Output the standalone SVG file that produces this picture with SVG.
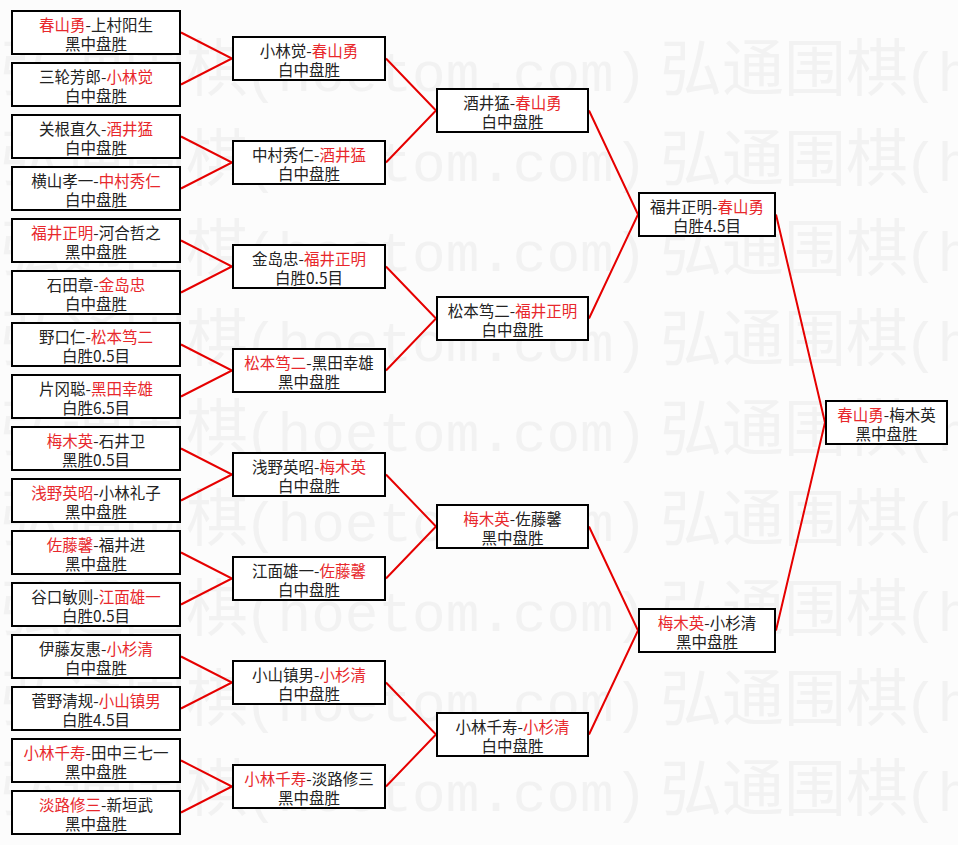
<svg xmlns="http://www.w3.org/2000/svg" xmlns:xlink="http://www.w3.org/1999/xlink" width="958" height="845" viewBox="0 0 958 845">
<style>
.bg{fill:#fcfcfc}
.wmc{font-family:"Noto Sans CJK SC","Noto Sans CJK JP",sans-serif;font-size:62px;fill:#f2f2f2}
.wml{font-family:"Liberation Mono",monospace;font-size:56px;fill:#f2f2f2}
.node rect{fill:#ffffff;stroke:#000000;stroke-width:2}
.node text{font-family:"Noto Sans CJK SC","Noto Sans CJK JP",sans-serif;font-size:15.5px;fill:#222222;text-anchor:middle}
.node .r{fill:#e8282c}
#connectors path{fill:none;stroke:#e60000;stroke-width:2}
</style>
<defs>
<g id="wmrow">
<text class="wmc" x="0">弘通围棋</text><text class="wml" x="244">(hoetom.com)</text>
<text class="wmc" x="660">弘通围棋</text><text class="wml" x="904">(hoetom.com)</text>
</g>
</defs>
<rect class="bg" x="0" y="0" width="958" height="845"/>
<g id="watermark">
<use xlink:href="#wmrow" x="0" y="90.5"/>
<use xlink:href="#wmrow" x="0" y="180.5"/>
<use xlink:href="#wmrow" x="0" y="270.5"/>
<use xlink:href="#wmrow" x="0" y="360.5"/>
<use xlink:href="#wmrow" x="0" y="450.5"/>
<use xlink:href="#wmrow" x="0" y="540.5"/>
<use xlink:href="#wmrow" x="0" y="630.5"/>
<use xlink:href="#wmrow" x="0" y="720.5"/>
<use xlink:href="#wmrow" x="0" y="810.5"/>
</g>
<g id="connectors">
<path d="M181,32.5 L232,58.5 L181,84.5"/>
<path d="M181,136.5 L232,162.5 L181,188.5"/>
<path d="M181,240.5 L232,266.5 L181,292.5"/>
<path d="M181,344.5 L232,370.5 L181,396.5"/>
<path d="M181,448.5 L232,474.5 L181,500.5"/>
<path d="M181,552.5 L232,578.5 L181,604.5"/>
<path d="M181,656.5 L232,682.5 L181,708.5"/>
<path d="M181,760.5 L232,786.5 L181,812.5"/>
<path d="M386,58.5 L436,110.5 L386,162.5"/>
<path d="M386,266.5 L436,318.5 L386,370.5"/>
<path d="M386,474.5 L436,526.5 L386,578.5"/>
<path d="M386,682.5 L436,734.5 L386,786.5"/>
<path d="M589,110.5 L638,214.5 L589,318.5"/>
<path d="M589,526.5 L638,630.5 L589,734.5"/>
<path d="M776,214.5 L825,422.5 L776,630.5"/>
</g>
<g id="r1-1" class="node"><rect x="12" y="11" width="168" height="43"/><text x="96" y="31"><tspan class="r">春山勇</tspan>-上村阳生</text><text x="96" y="50">黑中盘胜</text></g>
<g id="r1-2" class="node"><rect x="12" y="63" width="168" height="43"/><text x="96" y="83">三轮芳郎-<tspan class="r">小林觉</tspan></text><text x="96" y="102">白中盘胜</text></g>
<g id="r1-3" class="node"><rect x="12" y="115" width="168" height="43"/><text x="96" y="135">关根直久-<tspan class="r">酒井猛</tspan></text><text x="96" y="154">白中盘胜</text></g>
<g id="r1-4" class="node"><rect x="12" y="167" width="168" height="43"/><text x="96" y="187">横山孝一-<tspan class="r">中村秀仁</tspan></text><text x="96" y="206">白中盘胜</text></g>
<g id="r1-5" class="node"><rect x="12" y="219" width="168" height="43"/><text x="96" y="239"><tspan class="r">福井正明</tspan>-河合哲之</text><text x="96" y="258">黑中盘胜</text></g>
<g id="r1-6" class="node"><rect x="12" y="271" width="168" height="43"/><text x="96" y="291">石田章-<tspan class="r">金岛忠</tspan></text><text x="96" y="310">白中盘胜</text></g>
<g id="r1-7" class="node"><rect x="12" y="323" width="168" height="43"/><text x="96" y="343">野口仁-<tspan class="r">松本笃二</tspan></text><text x="96" y="362">白胜0.5目</text></g>
<g id="r1-8" class="node"><rect x="12" y="375" width="168" height="43"/><text x="96" y="395">片冈聪-<tspan class="r">黑田幸雄</tspan></text><text x="96" y="414">白胜6.5目</text></g>
<g id="r1-9" class="node"><rect x="12" y="427" width="168" height="43"/><text x="96" y="447"><tspan class="r">梅木英</tspan>-石井卫</text><text x="96" y="466">黑胜0.5目</text></g>
<g id="r1-10" class="node"><rect x="12" y="479" width="168" height="43"/><text x="96" y="499"><tspan class="r">浅野英昭</tspan>-小林礼子</text><text x="96" y="518">黑中盘胜</text></g>
<g id="r1-11" class="node"><rect x="12" y="531" width="168" height="43"/><text x="96" y="551"><tspan class="r">佐藤馨</tspan>-福井进</text><text x="96" y="570">黑中盘胜</text></g>
<g id="r1-12" class="node"><rect x="12" y="583" width="168" height="43"/><text x="96" y="603">谷口敏则-<tspan class="r">江面雄一</tspan></text><text x="96" y="622">白胜0.5目</text></g>
<g id="r1-13" class="node"><rect x="12" y="635" width="168" height="43"/><text x="96" y="655">伊藤友惠-<tspan class="r">小杉清</tspan></text><text x="96" y="674">白中盘胜</text></g>
<g id="r1-14" class="node"><rect x="12" y="687" width="168" height="43"/><text x="96" y="707">菅野清规-<tspan class="r">小山镇男</tspan></text><text x="96" y="726">白胜4.5目</text></g>
<g id="r1-15" class="node"><rect x="12" y="739" width="168" height="43"/><text x="96" y="759"><tspan class="r">小林千寿</tspan>-田中三七一</text><text x="96" y="778">黑中盘胜</text></g>
<g id="r1-16" class="node"><rect x="12" y="791" width="168" height="43"/><text x="96" y="811"><tspan class="r">淡路修三</tspan>-新垣武</text><text x="96" y="830">黑中盘胜</text></g>
<g id="r2-1" class="node"><rect x="233" y="37" width="152" height="43"/><text x="309" y="57">小林觉-<tspan class="r">春山勇</tspan></text><text x="309" y="76">白中盘胜</text></g>
<g id="r2-2" class="node"><rect x="233" y="141" width="152" height="43"/><text x="309" y="161">中村秀仁-<tspan class="r">酒井猛</tspan></text><text x="309" y="180">白中盘胜</text></g>
<g id="r2-3" class="node"><rect x="233" y="245" width="152" height="43"/><text x="309" y="265">金岛忠-<tspan class="r">福井正明</tspan></text><text x="309" y="284">白胜0.5目</text></g>
<g id="r2-4" class="node"><rect x="233" y="349" width="152" height="43"/><text x="309" y="369"><tspan class="r">松本笃二</tspan>-黑田幸雄</text><text x="309" y="388">黑中盘胜</text></g>
<g id="r2-5" class="node"><rect x="233" y="453" width="152" height="43"/><text x="309" y="473">浅野英昭-<tspan class="r">梅木英</tspan></text><text x="309" y="492">白中盘胜</text></g>
<g id="r2-6" class="node"><rect x="233" y="557" width="152" height="43"/><text x="309" y="577">江面雄一-<tspan class="r">佐藤馨</tspan></text><text x="309" y="596">白中盘胜</text></g>
<g id="r2-7" class="node"><rect x="233" y="661" width="152" height="43"/><text x="309" y="681">小山镇男-<tspan class="r">小杉清</tspan></text><text x="309" y="700">白中盘胜</text></g>
<g id="r2-8" class="node"><rect x="233" y="765" width="152" height="43"/><text x="309" y="785"><tspan class="r">小林千寿</tspan>-淡路修三</text><text x="309" y="804">黑中盘胜</text></g>
<g id="r3-1" class="node"><rect x="437" y="89" width="151" height="43"/><text x="512.5" y="109">酒井猛-<tspan class="r">春山勇</tspan></text><text x="512.5" y="128">白中盘胜</text></g>
<g id="r3-2" class="node"><rect x="437" y="297" width="151" height="43"/><text x="512.5" y="317">松本笃二-<tspan class="r">福井正明</tspan></text><text x="512.5" y="336">白中盘胜</text></g>
<g id="r3-3" class="node"><rect x="437" y="505" width="151" height="43"/><text x="512.5" y="525"><tspan class="r">梅木英</tspan>-佐藤馨</text><text x="512.5" y="544">黑中盘胜</text></g>
<g id="r3-4" class="node"><rect x="437" y="713" width="151" height="43"/><text x="512.5" y="733">小林千寿-<tspan class="r">小杉清</tspan></text><text x="512.5" y="752">白中盘胜</text></g>
<g id="r4-1" class="node"><rect x="639" y="193" width="136" height="43"/><text x="707" y="213">福井正明-<tspan class="r">春山勇</tspan></text><text x="707" y="232">白胜4.5目</text></g>
<g id="r4-2" class="node"><rect x="639" y="609" width="136" height="43"/><text x="707" y="629"><tspan class="r">梅木英</tspan>-小杉清</text><text x="707" y="648">黑中盘胜</text></g>
<g id="final" class="node"><rect x="826" y="401" width="121" height="43"/><text x="886.5" y="421"><tspan class="r">春山勇</tspan>-梅木英</text><text x="886.5" y="440">黑中盘胜</text></g>
</svg>
